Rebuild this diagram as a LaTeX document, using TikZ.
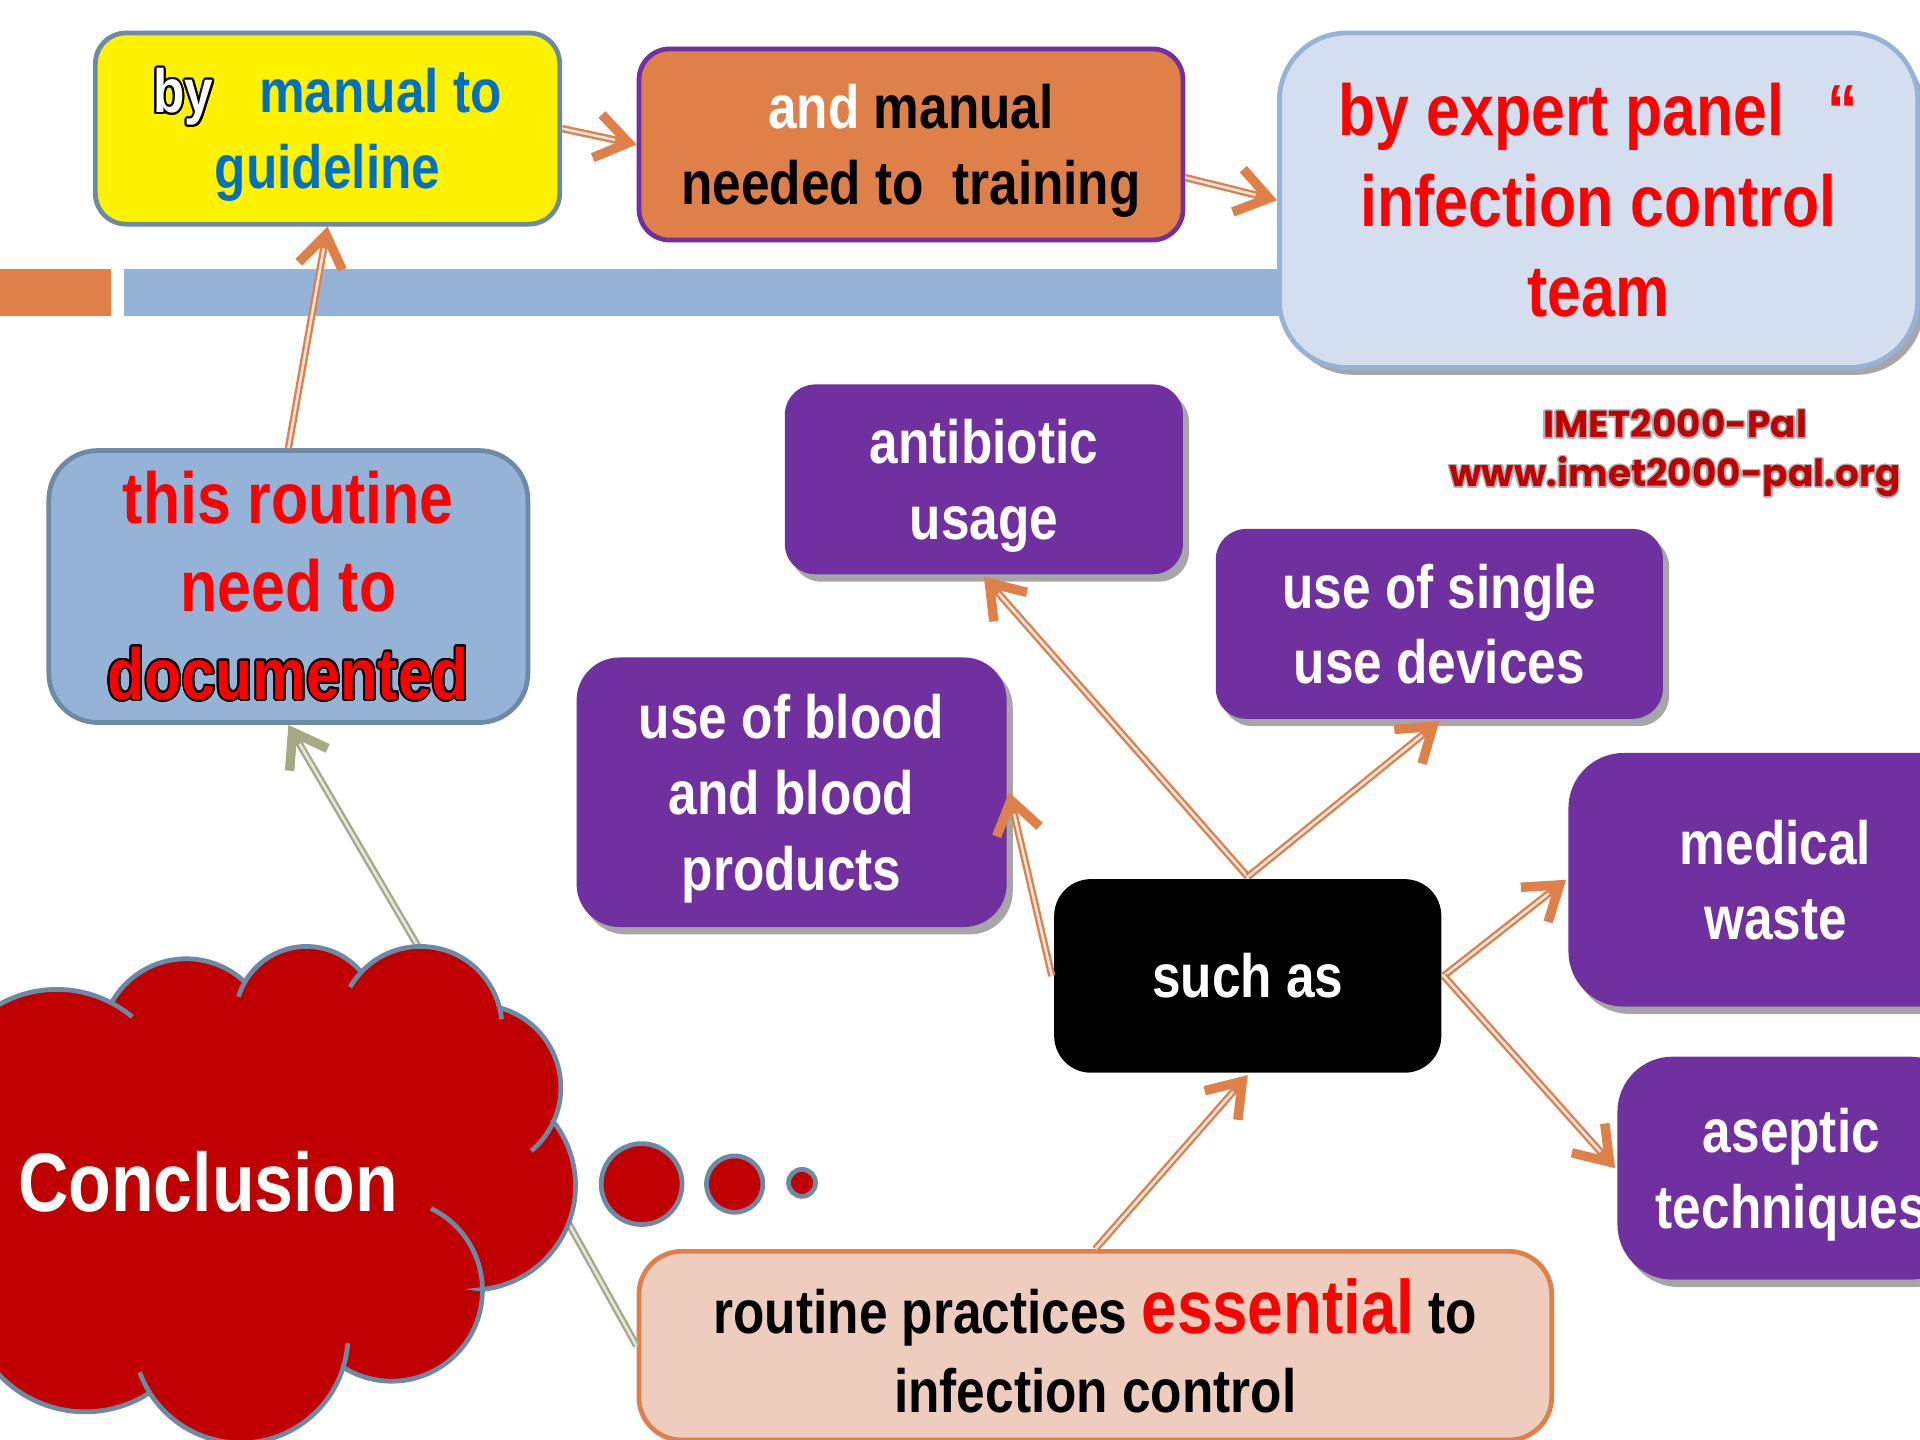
\documentclass[tikz,border=0pt]{standalone}
\usepackage{fontspec}
\setmainfont{Liberation Sans}[FakeStretch=0.84]
\newfontfamily\wmfont{Poppins}
\usepackage{contour}
\usetikzlibrary{arrows.meta,shadows}

\definecolor{accOrange}{HTML}{DE8047}
\definecolor{barBlue}{HTML}{95B3D7}
\definecolor{edgeBlue}{HTML}{6C8AA4}
\definecolor{paleBlue}{HTML}{D3DFEE}
\definecolor{deepPurple}{HTML}{7030A0}
\definecolor{cloudRed}{HTML}{C00000}
\definecolor{peach}{HTML}{EECCBE}
\definecolor{oliveLink}{HTML}{A5AA82}
\definecolor{linkBlue}{HTML}{0070C0}
\definecolor{brightRed}{HTML}{FF0000}

\newcommand\sizeBody{\fontsize{14.2}{17.6}\selectfont}
\newcommand\sizeBig{\fontsize{16.8}{20.6}\selectfont}

\tikzset{
  rbox/.style={rectangle, rounded corners=0.25cm, align=center, inner sep=0pt, line width=1.1pt},
  lowtext/.style={text depth=0pt},
  softshadow/.style={drop shadow={shadow xshift=0.05cm, shadow yshift=-0.06cm, fill=black, opacity=0.35}},
  purplebox/.style={rbox, lowtext, fill=deepPurple, text=white, font=\bfseries\sizeBody, softshadow},
  link/.style={draw=accOrange, line width=1.7pt,
    -{Straight Barb[length=0.26cm,width=0.36cm,line width=2.2pt]},
    postaction={draw=gray!20, line width=0.6pt, -, shorten >=0.18cm}},
  olivelink/.style={link, draw=oliveLink},
  puffline/.style={draw=edgeBlue, line width=1.1pt},
  bubble/.style={circle, fill=cloudRed, draw=edgeBlue, line width=1.1pt, inner sep=0pt},
  wm/.style={font=\wmfont\bfseries\fontsize{8.7}{10}\selectfont, text=cloudRed, inner sep=0pt},
}

\begin{document}
\begin{tikzpicture}[x=0.01cm, y=-0.01cm]
\useasboundingbox (0,0) rectangle (1568,1176);
\clip (0,0) rectangle (1568,1176);
\fill[white] (0,0) rectangle (1568,1176);

% title bar
\fill[accOrange] (0,220) rectangle (91,258);
\fill[barBlue] (101,220) rectangle (1100,258);

% top row
\node[rbox, lowtext, fill=yellow, draw=edgeBlue, minimum width=3.79cm, minimum height=1.56cm,
      font=\bfseries\sizeBody, text=linkBlue] (guide) at (267.5,105)
  {{\contourlength{0.5pt}\color{white}\contour{black}{by}}\hspace{0.75em}manual to\\guideline};
\node[rbox, lowtext, fill=accOrange, draw=deepPurple, minimum width=4.44cm, minimum height=1.56cm,
      font=\bfseries\sizeBody] (train) at (744,118)
  {\textcolor{white}{and} manual\\needed to\ \ training};
\node[rbox, rounded corners=0.55cm, fill=paleBlue, draw=barBlue, minimum width=5.21cm, minimum height=2.73cm,
      font=\bfseries\sizeBig, text=brightRed, softshadow] (panel) at (1305.5,163.5)
  {by expert panel\hspace{0.6em}“\\[0.5pt]infection control\\[0.5pt]team};

% watermark
\node[wm] (wmA) at (1368,347) {\contourlength{0.35pt}\contour{gray!60}{IMET2000-Pal}};
\node[wm] (wmB) at (1368,390) {\contourlength{0.35pt}\contour{gray!60}{www.imet2000-pal.org}};

% documented box
\node[rbox, rounded corners=0.4cm, fill=barBlue, draw=edgeBlue, minimum width=3.91cm, minimum height=2.22cm,
      font=\bfseries\fontsize{16.8}{20.4}\selectfont, text=brightRed] (doc) at (235.5,479)
  {this routine\\need to\\{\contourlength{0.45pt}\contour{black}{documented}}};

% examples
\node[purplebox, minimum width=3.25cm, minimum height=1.55cm] (abx) at (803.5,391.5) {antibiotic\\usage};
\node[purplebox, minimum width=3.65cm, minimum height=1.55cm] (single) at (1175.5,509.5) {use of single\\use devices};
\node[purplebox, rounded corners=0.35cm, minimum width=3.51cm, minimum height=2.20cm] (blood) at (646.5,647) {use of blood\\and blood\\products};
\node[purplebox, rounded corners=0.45cm, minimum width=3.38cm, minimum height=2.07cm] (waste) at (1450,718.5) {medical\\waste};
\node[purplebox, rounded corners=0.45cm, minimum width=2.84cm, minimum height=1.82cm] (aseptic) at (1463,954) {aseptic\\techniques};

\node[rbox, rounded corners=0.3cm, fill=black, text=white, minimum width=3.16cm, minimum height=1.58cm,
      font=\bfseries\sizeBody] (such) at (1019,797) {such as};

\node[rbox, rounded corners=0.35cm, fill=peach, draw=accOrange, minimum width=7.45cm, minimum height=1.54cm,
      font=\bfseries\fontsize{14.2}{18.5}\selectfont] (routine) at (894.5,1099)
  {routine practices {\color{brightRed}\fontsize{17.6}{18.5}\selectfont essential} to\\infection control};

% olive links leaving the cloud (drawn beneath it)
\coordinate (cloudtop) at (342,774);
\coordinate (cloudside) at (462,995);
\draw[olivelink] (cloudtop) -- (doc.south);
\draw[draw=oliveLink, line width=1.7pt, postaction={draw=gray!20, line width=0.6pt}] (cloudside) -- (routine.west);

% cloud outline: one circular puff after another
\path[fill=cloudRed, draw=edgeBlue, line width=1.1pt]
  ([shift={(200:95.8)}]46.4,903.8)    arc[start angle=200,   end angle=297.7, radius=95.8]
  -- ([shift={(209:69.8)}]152.1,852.8)  arc[start angle=209,   end angle=313.3, radius=69.8]
  -- ([shift={(210:58.07)}]250.3,831)   arc[start angle=210,   end angle=320.4, radius=58.07]
  -- ([shift={(223.2:66.56)}]343.5,839.5) arc[start angle=223.2, end angle=345.7, radius=66.56]
  -- ([shift={(285:67.5)}]390.5,888.2)  arc[start angle=285,   end angle=384.3, radius=67.5]
  -- ([shift={(322:85.1)}]384.9,968.4)  arc[start angle=322,   end angle=443.9, radius=85.1]
  -- ([shift={(-0.6:74.2)}]319.8,1053.8) arc[start angle=-0.6, end angle=121.5, radius=74.2]
  -- ([shift={(17.3:87.7)}]196.5,1090.7) arc[start angle=17.3, end angle=148.1, radius=87.7]
  -- ([shift={(57.2:96.7)}]69.6,1056.3)  arc[start angle=57.2, end angle=150,   radius=96.7]
  -- (-80,1000) -- cycle;
% seams where the puffs overlap
\draw[puffline] ([shift={(297.7:95.8)}]46.4,903.8)   arc[start angle=297.7, end angle=310,  radius=95.8];
\draw[puffline] ([shift={(197:58.07)}]250.3,831)     arc[start angle=197,   end angle=210,  radius=58.07];
\draw[puffline] ([shift={(210:66.56)}]343.5,839.5)   arc[start angle=210,   end angle=223.2, radius=66.56];
\draw[puffline] ([shift={(345.7:66.56)}]343.5,839.5) arc[start angle=345.7, end angle=354,  radius=66.56];
\draw[puffline] ([shift={(24.3:67.5)}]390.5,888.2)   arc[start angle=24.3,  end angle=50,   radius=67.5];
\draw[puffline] ([shift={(-64.3:74.2)}]319.8,1053.8) arc[start angle=-64.3, end angle=-0.6, radius=74.2];
\draw[puffline] ([shift={(4.1:87.7)}]196.5,1090.7)   arc[start angle=4.1,   end angle=17.3, radius=87.7];
\draw[puffline] ([shift={(148.1:87.7)}]196.5,1090.7) arc[start angle=148.1, end angle=160,  radius=87.7];

\node[font=\bfseries\fontsize{19.3}{23}\selectfont, text=white, inner sep=0pt] (conclabel) at (170,965) {Conclusion};
\node[bubble, minimum size=0.66cm] (bubA) at (524,967) {};
\node[bubble, minimum size=0.46cm] (bubB) at (600,967) {};
\node[bubble, minimum size=0.22cm] (bubC) at (655,966) {};

% orange links
\draw[link] (guide.east) -- (train.west);
\draw[link] ([yshift=-0.27cm]train.east) -- (panel.west);
\draw[link] (doc.north) -- (guide.south);
\draw[link] (such.north) -- (abx.south);
\draw[link] (such.north) -- (single.south);
\draw[link] (such.west) -- (blood.east);
\draw[link] (such.east) -- (waste.west);
\draw[link] (such.east) -- (aseptic.west);
\draw[link] (routine.north) -- (such.south);
\end{tikzpicture}
\end{document}
